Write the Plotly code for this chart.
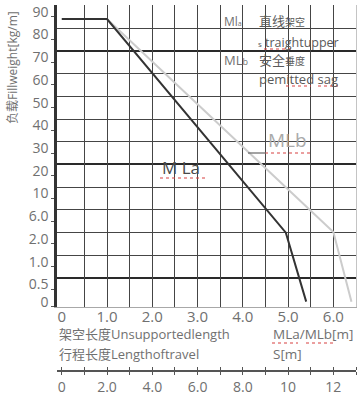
import numpy as np
import plotly.graph_objects as go

# ---------------- data ----------------
weight_labels = ["0", "0.5", "1.0", "2.0", "6.0", "10", "20", "30", "40", "50", "60", "70", "80", "90"]
weight_values = [0, 0.5, 1, 2, 6, 10, 20, 30, 40, 50, 60, 70, 80, 90]

length_ticks = [0, 1, 2, 3, 4, 5, 6]
length_labels = ["0", "1.0", "2.0", "3.0", "4.0", "5.0", "6.0"]

travel_ticks = list(range(0, 14))
travel_labels = ["0", "", "2.0", "", "4.0", "", "6.0", "", "8.0", "", "10", "", "12", ""]

mla_length = [0.0, 1.0, 4.95, 5.4]
mla_weight = [89, 89, 4.0, 0.15]

mlb_length = [1.0, 5.5, 6.0, 6.4]
mlb_weight = [89, 8.0, 4.1, 0.15]

# ---------------- scale (hand-drawn, non-uniform weight axis) ----------------
slots = [-0.27] + [i + 0.5 for i in range(13)]
def to_slot(w):
    return np.interp(w, weight_values, slots)

FONT = "Open Sans, Noto Sans CJK SC, sans-serif"
TXT = "#707070"
W, H = 360, 397
ML, MR, MT, MB = 57, 4, 5, 26
PW, PH = W - ML - MR, H - MT - MB
def px(xp, yp):
    return (xp - ML) / PW, (H - MB - yp) / PH

ybottom = (H - MB - 307) / PH
yr = [-0.275, 13.02]
xr = [-0.105, 6.5]

fig = go.Figure()
fig.add_trace(go.Scatter(x=mlb_length, y=to_slot(mlb_weight), mode="lines",
                         line=dict(color="#cccccc", width=2), hoverinfo="skip"))
fig.add_trace(go.Scatter(x=mla_length, y=to_slot(mla_weight), mode="lines",
                         line=dict(color="#333333", width=2), hoverinfo="skip"))
# helper traces to activate the extra axes
for xa, ya in [("x2", "y"), ("x", "y2"), ("x", "y3"), ("x3", "y4")]:
    fig.add_trace(go.Scatter(x=[None], y=[None], xaxis=xa, yaxis=ya, hoverinfo="skip"))

common = dict(automargin=False, zeroline=False)
fig.update_layout(
    width=W, height=H, margin=dict(l=ML, r=MR, t=MT, b=MB, autoexpand=False),
    plot_bgcolor="rgba(0,0,0,0)", paper_bgcolor="white", showlegend=False,
    font=dict(family=FONT, color=TXT),
    # label axis for MLa/MLb
    xaxis=dict(range=xr, domain=[0, 1], anchor="y", tickvals=length_ticks,
               ticktext=length_labels, showgrid=False, ticks="", showline=True,
               linecolor="#a8a8a8", linewidth=1, ticklabelstandoff=-4,
               tickfont=dict(size=15, color=TXT), **common),
    # grid axis (vertical lines every 0.5)
    xaxis2=dict(range=xr, overlaying="x", anchor="y", side="bottom",
                tickvals=[i * 0.5 for i in range(1, 13)], showticklabels=False, ticks="",
                showgrid=True, gridcolor="#454545", gridwidth=1, showline=False, **common),
    # travel length S axis (separate strip at the bottom)
    xaxis3=dict(range=[2 * xr[0], 2 * xr[1]], domain=[0, 1], anchor="y4",
                tickvals=travel_ticks, ticktext=travel_labels, ticks="outside", ticklen=3,
                tickcolor="#555555", showline=True, linecolor="#555555", linewidth=1,
                mirror="ticks", showgrid=False, tickfont=dict(size=14, color=TXT), **common),
    yaxis4=dict(domain=[0, 0.001], range=[0, 1], visible=False, anchor="x3", **common),
    # label axis for weights
    yaxis=dict(domain=[ybottom, 1], range=yr, anchor="x", tickvals=slots,
               ticktext=weight_labels, ticks="outside", ticklen=3, tickcolor="#555555",
               ticklabelshift=-5, showgrid=False, showline=True, linecolor="#333333",
               linewidth=2.5, tickfont=dict(size=14, color=TXT), **common),
    # thin horizontal grid + right border
    yaxis2=dict(range=yr, overlaying="y", side="right", anchor="x", tickvals=list(range(1, 14)),
                showticklabels=False, ticks="", showgrid=True, gridcolor="#454545",
                gridwidth=1, showline=True, linecolor="#c4c4c4", linewidth=1, **common),
    # thick grid lines
    yaxis3=dict(range=yr, overlaying="y", side="right", anchor="x", tickvals=[1, 6, 11],
                showgrid=True, gridcolor="#2a2a2a", gridwidth=2, showticklabels=False,
                ticks="", showline=False, **common),
)

ann = []
def text(xp, yp, s, size, color=TXT, xanchor="left", angle=0):
    x, y = px(xp, yp)
    ann.append(dict(x=x, y=y, xref="paper", yref="paper", text=s, showarrow=False,
                    xanchor=xanchor, yanchor="middle", textangle=angle,
                    font=dict(size=size, color=color, family=FONT)))

text(13, 67, "负载Fillweight[kg/m]", 12, xanchor="center", angle=-90)
text(57, 334, "架空长度Unsupportedlength", 13)
text(271, 334, "MLa/MLb[m]", 13.5)
text(57, 354, "行程长度Lengthoftravel", 13)
text(271, 354, "S[m]", 13.5)
text(160, 167, "M La", 17, color="#4a4a4a")
text(266, 140, "MLb", 19, color="#aaaaaa")
text(222, 21, "Ml<span style='font-size:7px'>a</span>", 12)
text(257, 21, "直线<span style='font-size:10px'>架空</span>", 13, color="#5a5a5a")
text(256, 42, "<span style='font-size:8px'>s</span> traightupper", 12.5, color="#5a5a5a")
text(222, 60, "ML<span style='font-size:9px'>b</span>", 13)
text(257, 60, "安全<span style='font-size:10px'>垂度</span>", 13, color="#5a5a5a")
text(257, 79, "pemitted sag", 13, color="#5a5a5a")
fig.update_layout(annotations=ann)

shapes = []
def squiggle(x0, x1, yp, color="#d84040", dash="dot"):
    a = px(x0, yp); b = px(x1, yp)
    shapes.append(dict(type="line", xref="paper", yref="paper", x0=a[0], y0=a[1],
                       x1=b[0], y1=b[1], line=dict(color=color, width=1.2, dash=dash)))
squiggle(160, 207, 178)
squiggle(265, 313, 153)
squiggle(248, 266, 153, color="#666666", dash="solid")
squiggle(264, 292, 49)
squiggle(286, 311, 86)
squiggle(318, 338, 86)
squiggle(272, 298, 343)
squiggle(306, 333, 343)
fig.update_layout(shapes=shapes)

fig.write_html("out.html", config={"displayModeBar": False},
               post_script="document.body.style.margin='0';")
